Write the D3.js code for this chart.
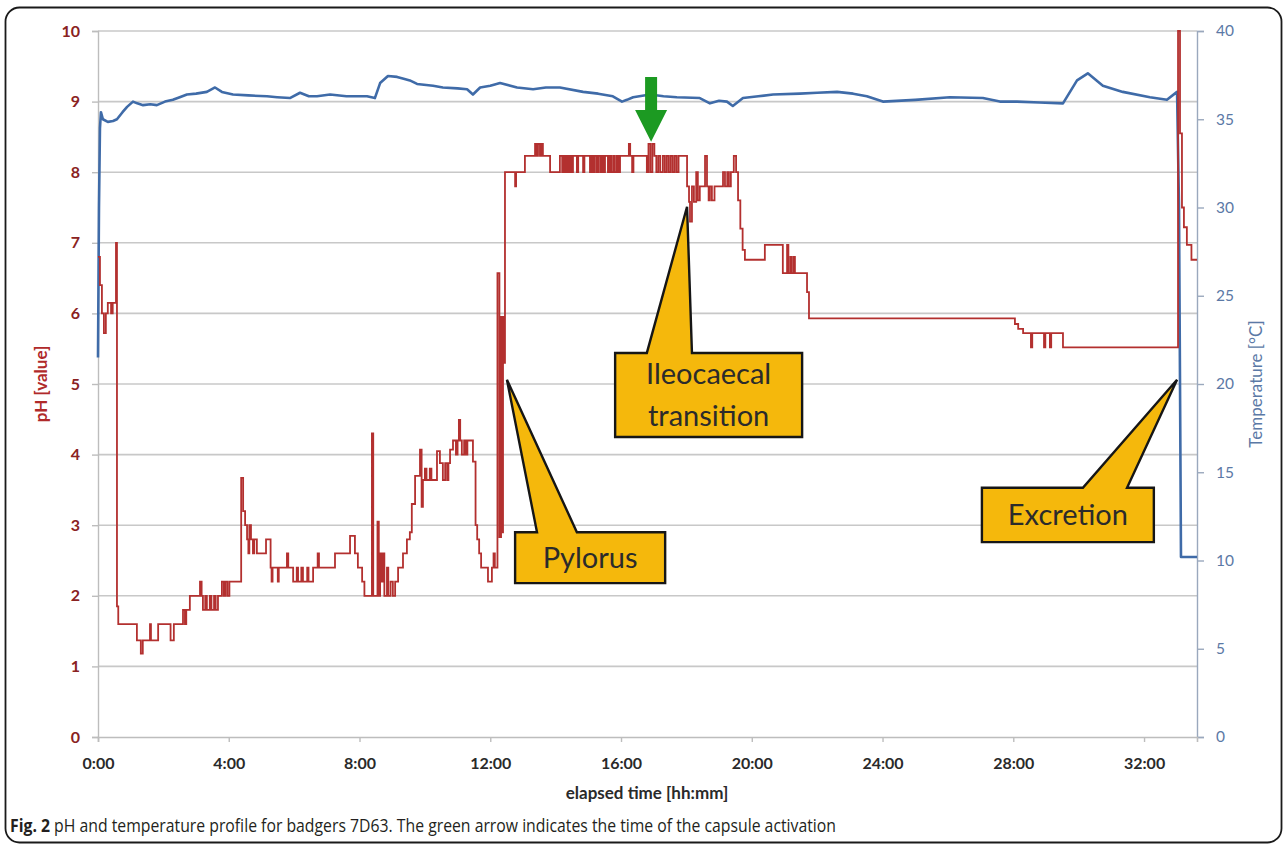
<!DOCTYPE html>
<html><head><meta charset="utf-8">
<script src="https://cdn.jsdelivr.net/npm/d3@7/dist/d3.min.js"></script>
<style>body{margin:0;background:#fff}svg{display:block}</style>
</head><body>
<svg id="c" width="1287" height="849"></svg>
<script>
// ---------------- DATA ----------------
const xTickHours = [0, 4, 8, 12, 16, 20, 24, 28, 32];
const xTickLabels = ["0:00", "4:00", "8:00", "12:00", "16:00", "20:00", "24:00", "28:00", "32:00"];
const phTicks = [0, 1, 2, 3, 4, 5, 6, 7, 8, 9, 10];
const tempTicks = [0, 5, 10, 15, 20, 25, 30, 35, 40];

// pH readings [elapsed hours, pH]
const phStomach = [[0.00,6.8],[0.06,6.4],[0.12,6.0],[0.18,5.72],[0.24,6.0],[0.30,6.15],[0.40,6.0],[0.45,6.15],[0.55,7.0],[0.58,1.85],[0.62,1.6],
[1.19,1.37],[1.31,1.18],[1.37,1.37],[1.59,1.6],[1.62,1.37],[1.84,1.6],[2.22,1.37],[2.32,1.6],
[2.60,1.8],[2.66,1.6],[2.70,1.8],[2.81,2.0],[3.12,2.2],[3.17,2.0],[3.21,1.8],[3.28,2.0],[3.33,1.8],[3.42,2.0],[3.47,1.8],[3.55,2.0],[3.60,1.8],[3.67,2.0],[3.79,2.2],[3.85,2.0],[3.90,2.2],[3.96,2.0],[4.02,2.2],
[4.38,3.67],[4.44,3.2],[4.50,3.0],[4.56,2.8],[4.60,2.6],[4.63,3.0],[4.68,2.8],[4.74,2.6],[4.78,2.8],[4.86,2.6],[5.14,2.8],[5.28,2.4],[5.31,2.2],[5.34,2.4],[5.50,2.2],[5.53,2.4],[5.78,2.6],[5.82,2.4],[5.97,2.2],[6.08,2.4],[6.12,2.2],[6.22,2.4],[6.27,2.2],[6.40,2.4],[6.44,2.2],[6.58,2.4],[6.72,2.6],[6.76,2.4],[7.25,2.6],[7.71,2.85],[7.86,2.6],[7.95,2.4],[8.08,2.2],[8.15,2.0],[8.38,4.3],[8.42,2.0],[8.55,3.05],[8.59,2.0],[8.63,2.6],[8.67,2.2],[8.72,2.6],[8.76,2.0],[8.84,2.4],[8.88,2.0],[8.95,2.2],[9.02,2.0],[9.09,2.2],[9.18,2.4],[9.33,2.6],[9.45,2.8],[9.54,2.9],[9.60,3.3],[9.70,3.7],[9.85,4.07],[9.90,3.26],[9.94,3.64],[10.00,3.8],[10.05,3.64],[10.15,3.8],[10.20,3.64],[10.37,4.05],[10.46,3.88],[10.55,3.64],[10.62,3.88],[10.68,3.64],[10.72,3.88],[10.77,4.07],[10.86,4.2],[10.95,4.0],[11.00,4.2],[11.04,4.49],[11.08,4.2],[11.13,4.0],[11.20,4.2],[11.25,4.0],[11.30,4.2],[11.47,3.9],[11.55,3.0],[11.60,2.8],[11.66,2.6],[11.72,2.4],[11.93,2.2],[12.05,2.4],[12.10,2.6],[12.14,2.4],[12.22,6.57],[12.28,2.83],[12.33,5.95],[12.36,2.9],[12.39,5.95],[12.42,5.3]];
const phSmallIntestine = [[12.45,8.0],[12.76,7.8],[12.79,8.0],[13.06,8.23],[13.37,8.4],[13.42,8.23],[13.46,8.4],[13.52,8.23],[13.56,8.4],[13.61,8.23],[13.83,8.0],[14.13,8.23],[14.20,8.0],[14.24,8.23],[14.28,8.0],[14.33,8.23],[14.38,8.0],[14.43,8.23],[14.48,8.0],[14.53,8.23],[14.65,8.0],[14.69,8.23],[14.84,8.0],[14.88,8.23],[15.05,8.0],[15.10,8.23],[15.15,8.0],[15.20,8.23],[15.26,8.0],[15.31,8.23],[15.37,8.0],[15.42,8.23],[15.47,8.0],[15.51,8.23],[15.60,8.0],[15.65,8.23],[15.70,8.0],[15.76,8.23],[15.81,8.0],[15.87,8.23],[15.92,8.0],[15.97,8.23],[16.24,8.4],[16.28,8.23],[16.34,8.0],[16.38,8.23],[16.79,8.0],[16.84,8.4],[16.90,8.0],[16.96,8.4],[17.02,8.23],[17.08,8.0],[17.14,8.23],[17.20,8.0],[17.28,8.23],[17.34,8.0],[17.40,8.23],[17.46,8.0],[17.52,8.23],[17.58,8.0],[17.64,8.23],[17.70,8.0],[17.76,8.23]];
const phLargeIntestine = [[18.02,7.8],[18.08,7.58],[18.11,7.3],[18.17,7.8],[18.23,7.58],[18.30,8.0],[18.35,7.6],[18.41,7.8],[18.57,8.23],[18.63,7.8],[18.68,7.6],[18.72,7.8],[18.78,7.6],[18.86,7.8],[19.12,8.0],[19.18,7.8],[19.25,8.0],[19.30,7.8],[19.36,8.0],[19.45,8.23],[19.52,8.0],[19.58,7.6],[19.65,7.2],[19.72,6.9],[19.79,6.76],[20.40,6.97],[20.95,6.57],[21.08,6.97],[21.12,6.57],[21.18,6.8],[21.22,6.57],[21.28,6.8],[21.32,6.57],[21.69,6.3],[21.75,5.93],[28.05,5.85],[28.15,5.78],[28.30,5.72],[28.54,5.52],[28.58,5.72],[28.94,5.52],[28.98,5.72],[29.12,5.52],[29.16,5.72],[29.52,5.52]];
const phExcretion = [[33.04,10],[33.10,8.55],[33.16,7.5],[33.22,7.22],[33.31,6.97],[33.45,6.76],[33.62,6.76]];

// temperature readings [elapsed hours, °C]
const tempSeries = [[0.00,21.5],[0.03,30],[0.06,34.5],[0.09,35.4],[0.15,35.0],[0.30,34.85],[0.46,34.9],[0.58,35.0],[0.75,35.4],[0.89,35.7],[1.07,36.0],[1.20,35.9],[1.38,35.8],[1.60,35.85],[1.80,35.8],[2.05,36.0],[2.29,36.1],[2.50,36.25],[2.72,36.4],[3.00,36.45],[3.33,36.55],[3.58,36.8],[3.79,36.55],[4.13,36.4],[4.60,36.35],[5.17,36.3],[5.48,36.25],[5.87,36.2],[6.18,36.5],[6.45,36.3],[6.70,36.3],[7.10,36.4],[7.60,36.3],[8.23,36.3],[8.47,36.2],[8.63,37.05],[8.87,37.45],[9.15,37.4],[9.35,37.3],[9.54,37.2],[9.76,37.0],[10.25,36.9],[10.55,36.8],[11.00,36.75],[11.29,36.7],[11.47,36.4],[11.69,36.8],[12.00,36.9],[12.30,37.05],[12.82,36.8],[13.31,36.7],[13.70,36.8],[14.13,36.8],[14.84,36.55],[15.30,36.45],[15.75,36.3],[16.03,36.0],[16.18,36.1],[16.37,36.25],[16.89,36.4],[17.30,36.3],[17.71,36.25],[18.41,36.2],[18.72,35.9],[19.00,36.05],[19.24,36.0],[19.42,35.75],[19.73,36.2],[20.20,36.3],[20.65,36.4],[21.47,36.45],[22.00,36.5],[22.61,36.55],[23.10,36.45],[23.52,36.3],[24.01,36.0],[25.00,36.1],[26.06,36.25],[27.07,36.2],[27.59,36.0],[28.11,36.0],[28.80,35.95],[29.52,35.9],[29.95,37.2],[30.28,37.6],[30.74,36.9],[31.35,36.55],[32.18,36.25],[32.70,36.1],[33.01,36.55],[33.07,30],[33.13,10.2],[33.62,10.2]];

// annotation texts
const calloutTexts = [["Pylorus"], ["Ileocaecal", "transition"], ["Excretion"]];
const captionBold = "Fig. 2";
const captionText = " pH and temperature profile for badgers 7D63. The green arrow indicates the time of the capsule activation";

// ---------------- CHART ----------------
const svg = d3.select("#c");
const x = d3.scaleLinear().domain([0, 33.62]).range([98, 1197]);
const yPH = d3.scaleLinear().domain([0, 10]).range([737, 31]);
const yT = d3.scaleLinear().domain([0, 40]).range([737, 31]);
const FONT = "Lato, 'Open Sans', sans-serif";

// frame
svg.append("rect").attr("x", 5.5).attr("y", 7.5).attr("width", 1276).attr("height", 835)
  .attr("rx", 14).attr("fill", "none").attr("stroke", "#1a1a1a").attr("stroke-width", 1.8);

// gridlines
svg.append("g").selectAll("line").data(phTicks.filter(d => d > 0)).join("line")
  .attr("x1", x(0)).attr("x2", x(33.62)).attr("y1", d => yPH(d)).attr("y2", d => yPH(d))
  .attr("stroke", "#c8c8c8").attr("stroke-width", 1.6);

// left axis
const gL = svg.append("g").attr("transform", `translate(${x(0)},0)`)
  .call(d3.axisLeft(yPH).tickValues(phTicks).tickSize(6).tickPadding(12).tickFormat(d3.format("d")));
gL.select(".domain").attr("stroke", "#bdbdbd").attr("stroke-width", 1.4);
gL.selectAll(".tick line").attr("stroke", "#bdbdbd").attr("stroke-width", 1.4);
gL.selectAll("text").attr("font-family", FONT).attr("font-size", 16).attr("font-weight", "bold").attr("fill", "#8a2222");

// right axis
const gR = svg.append("g").attr("transform", `translate(${x(33.62)},0)`)
  .call(d3.axisRight(yT).tickValues(tempTicks).tickSize(7).tickPadding(12));
gR.select(".domain").attr("stroke", "#9aa8bd").attr("stroke-width", 1.4);
gR.selectAll(".tick line").attr("stroke", "#9aa8bd").attr("stroke-width", 1.4);
gR.selectAll("text").attr("font-family", FONT).attr("font-size", 15.5).attr("fill", "#5b79a6");

// bottom axis
const gB = svg.append("g").attr("transform", `translate(0,${yPH(0)})`)
  .call(d3.axisBottom(x).tickValues(xTickHours).tickSize(5).tickPadding(16).tickFormat((d, i) => xTickLabels[i]));
gB.select(".domain").attr("stroke", "#bdbdbd").attr("stroke-width", 1.6);
gB.selectAll(".tick line").attr("stroke", "#bdbdbd").attr("stroke-width", 1.4);
gB.selectAll("text").attr("font-family", FONT).attr("font-size", 16).attr("font-weight", "bold").attr("fill", "#2a2a2a");

// axis titles
svg.append("text").attr("transform", `translate(47,${yPH(5)}) rotate(-90)`)
  .attr("text-anchor", "middle").attr("font-family", FONT).attr("font-size", 17).attr("font-weight", "bold")
  .attr("fill", "#b02a2a").text("pH [value]");
svg.append("text").attr("transform", `translate(1262,${yPH(5)}) rotate(-90)`)
  .attr("text-anchor", "middle").attr("font-family", FONT).attr("font-size", 17)
  .attr("fill", "#5b79a6").text("Temperature [°C]");
svg.append("text").attr("x", 647).attr("y", 799).attr("text-anchor", "middle")
  .attr("font-family", FONT).attr("font-size", 17).attr("font-weight", "bold")
  .attr("fill", "#2a2a2a").text("elapsed time [hh:mm]");

// lines
const tempLine = d3.line().x(d => x(d[0])).y(d => yT(d[1])).curve(d3.curveLinear);
svg.append("path").datum(tempSeries).attr("d", tempLine).attr("fill", "none")
  .attr("stroke", "#3f6ba8").attr("stroke-width", 2.6).attr("stroke-linejoin", "round");

const phData = phStomach.concat(phSmallIntestine, phLargeIntestine, phExcretion);
const phLine = d3.line().x(d => x(d[0])).y(d => yPH(d[1])).curve(d3.curveStepAfter);
svg.append("path").datum(phData).attr("d", phLine).attr("fill", "none")
  .attr("stroke", "#b3302f").attr("stroke-width", 1.8);

// callouts (positions in data units: hours / pH)
const callouts = [
  { lines: calloutTexts[0], tip: [12.51, 5.06], box: [12.76, 2.90, 17.35, 2.18], base: [13.43, 14.65], fs: 29 },
  { lines: calloutTexts[1], tip: [18.02, 7.51], box: [15.82, 5.44, 21.54, 4.25], base: [16.79, 18.17], fs: 29 },
  { lines: calloutTexts[2], tip: [33.01, 5.06], box: [27.04, 3.53, 32.30, 2.76], base: [30.13, 31.48], fs: 29 }
];
callouts.forEach(c => {
  const bx0 = x(c.box[0]), by0 = yPH(c.box[1]), bx1 = x(c.box[2]), by1 = yPH(c.box[3]);
  const p = d3.path();
  p.moveTo(bx0, by0); p.lineTo(x(c.base[0]), by0); p.lineTo(x(c.tip[0]), yPH(c.tip[1]));
  p.lineTo(x(c.base[1]), by0); p.lineTo(bx1, by0); p.lineTo(bx1, by1); p.lineTo(bx0, by1); p.closePath();
  svg.append("path").attr("d", p.toString()).attr("fill", "#f5b80c").attr("stroke", "#161616")
    .attr("stroke-width", 2.4).attr("stroke-linejoin", "miter");
  const cx = (bx0 + bx1) / 2, cy = (by0 + by1) / 2;
  const lh = 42;
  c.lines.forEach((t, i) => {
    svg.append("text").attr("x", cx).attr("y", cy + (i - (c.lines.length - 1) / 2) * lh)
      .attr("dy", "0.35em").attr("text-anchor", "middle").attr("font-family", FONT)
      .attr("font-size", c.fs).attr("fill", "#2b2b2b").text(t);
  });
});

// green arrow (capsule activation)
const arrowT = 16.92, arrowTipPH = 8.43, arrowTopPH = 9.35, arrowHeadPH = 8.88;
const ax = x(arrowT);
svg.append("path").attr("d",
  `M${ax - 6},${yPH(arrowTopPH)} L${ax + 6},${yPH(arrowTopPH)} L${ax + 6},${yPH(arrowHeadPH)} ` +
  `L${ax + 16},${yPH(arrowHeadPH)} L${ax},${yPH(arrowTipPH)} L${ax - 16},${yPH(arrowHeadPH)} L${ax - 6},${yPH(arrowHeadPH)} Z`)
  .attr("fill", "#1c9a22");

// caption
const cap = svg.append("text").attr("x", 10).attr("y", 832).attr("font-family", "'Open Sans', sans-serif")
  .attr("font-size", 17.5).attr("fill", "#231f20");
cap.append("tspan").attr("font-weight", "bold").text(captionBold);
cap.append("tspan").text(captionText);
cap.attr("textLength", 826).attr("lengthAdjust", "spacingAndGlyphs");
</script>
</body></html>
